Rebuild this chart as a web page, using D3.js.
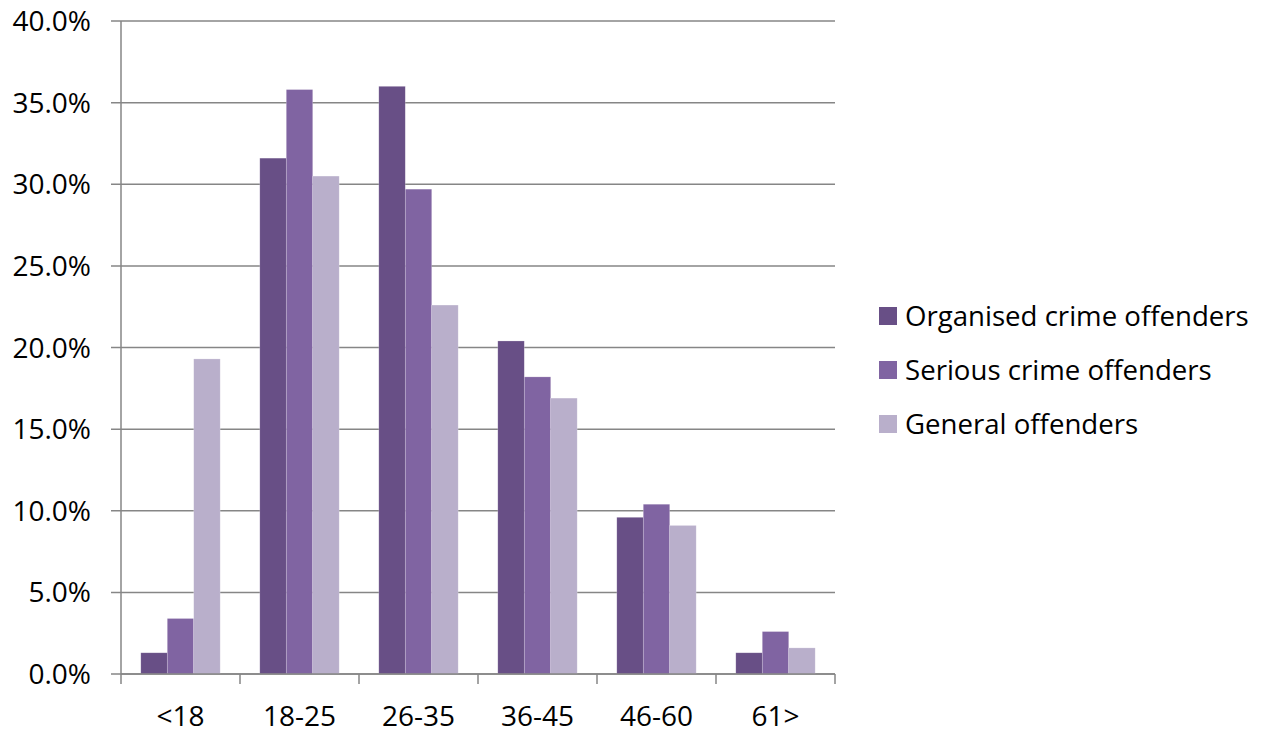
<!DOCTYPE html>
<html>
<head>
<meta charset="utf-8">
<script src="https://cdn.jsdelivr.net/npm/d3@7"></script>
<style>
  html, body { margin: 0; padding: 0; background: #ffffff; }
  svg { display: block; font-family: "Open Sans", sans-serif; }
</style>
</head>
<body>
<svg id="chart" width="1263" height="733"></svg>
<script>
// Age groups on the x axis
const ageGroups = ["<18", "18-25", "26-35", "36-45", "46-60", "61>"];
// Share of each offender group per age band (%)
const organisedCrime = [1.3, 31.6, 36.0, 20.4, 9.6, 1.3];
const seriousCrime   = [3.4, 35.8, 29.7, 18.2, 10.4, 2.6];
const generalOffenders = [19.3, 30.5, 22.6, 16.9, 9.1, 1.6];
const seriesNames = ["Organised crime offenders", "Serious crime offenders", "General offenders"];
const seriesColors = ["#684f86", "#8064a2", "#b9afcb"];
const yTicks = [0, 5, 10, 15, 20, 25, 30, 35, 40];

const seriesValues = [organisedCrime, seriousCrime, generalOffenders];

const svg = d3.select("#chart");
const plot = { left: 121, right: 835, top: 21, bottom: 674 };

const x = d3.scaleBand().domain(ageGroups).range([plot.left, plot.right]).paddingInner(0).paddingOuter(0);
const y = d3.scaleLinear().domain([0, 40]).range([plot.bottom, plot.top]);
const groupWidth = x.bandwidth() * 0.667;
const xInner = d3.scaleBand().domain(seriesNames).range([(x.bandwidth() - groupWidth) / 2, (x.bandwidth() + groupWidth) / 2]);

const gridColor = "#868686";

// Horizontal gridlines with short left ticks
svg.append("g").selectAll("line").data(yTicks).join("line")
  .attr("x1", plot.left - 10).attr("x2", plot.right)
  .attr("y1", d => y(d)).attr("y2", d => y(d))
  .attr("stroke", gridColor).attr("stroke-width", 1.5);

// Y axis labels
svg.append("g").selectAll("text").data(yTicks).join("text")
  .attr("x", 91).attr("y", d => y(d))
  .attr("dy", "0.36em")
  .attr("text-anchor", "end")
  .attr("font-size", 28)
  .attr("fill", "#000")
  .text(d => d.toFixed(1) + "%");

// Bars
const groups = svg.append("g").selectAll("g").data(ageGroups).join("g")
  .attr("transform", d => `translate(${x(d)},0)`);

groups.selectAll("rect")
  .data((d, i) => seriesNames.map((s, k) => ({ s, k, v: seriesValues[k][i] })))
  .join("rect")
  .attr("x", d => xInner(d.s))
  .attr("width", xInner.bandwidth())
  .attr("y", d => y(d.v))
  .attr("height", d => y(0) - y(d.v))
  .attr("fill", d => seriesColors[d.k])
  .attr("stroke", "rgba(255,255,255,0.35)")
  .attr("stroke-width", 0.6);

// Y axis line
svg.append("line")
  .attr("x1", plot.left).attr("x2", plot.left)
  .attr("y1", plot.top).attr("y2", plot.bottom)
  .attr("stroke", gridColor).attr("stroke-width", 1.5);

// X axis line and category boundary ticks
svg.append("line")
  .attr("x1", plot.left).attr("x2", plot.right)
  .attr("y1", plot.bottom).attr("y2", plot.bottom)
  .attr("stroke", gridColor).attr("stroke-width", 1.5);

const boundaries = ageGroups.map(d => x(d)).concat([plot.right]);
svg.append("g").selectAll("line").data(boundaries).join("line")
  .attr("x1", d => d).attr("x2", d => d)
  .attr("y1", plot.bottom).attr("y2", plot.bottom + 10)
  .attr("stroke", gridColor).attr("stroke-width", 1.5);

// X axis labels
svg.append("g").selectAll("text").data(ageGroups).join("text")
  .attr("x", d => x(d) + x.bandwidth() / 2)
  .attr("y", 716)
  .attr("dy", "0.36em")
  .attr("text-anchor", "middle")
  .attr("font-size", 28)
  .attr("fill", "#000")
  .text(d => d);

// Legend
const legend = svg.append("g").selectAll("g").data(seriesNames).join("g")
  .attr("transform", (d, i) => `translate(879, ${316 + i * 54})`);
legend.append("rect")
  .attr("x", 0).attr("y", -9).attr("width", 18).attr("height", 18)
  .attr("fill", (d, i) => seriesColors[i]);
legend.append("text")
  .attr("x", 26).attr("y", 0).attr("dy", "0.36em")
  .attr("font-size", 27.6)
  .attr("fill", "#000")
  .text(d => d);
</script>
</body>
</html>
